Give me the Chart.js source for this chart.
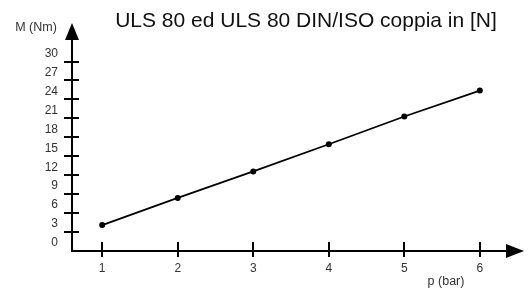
<!DOCTYPE html>
<html><head><meta charset="utf-8">
<script src="https://cdn.jsdelivr.net/npm/chart.js@4/dist/chart.umd.min.js"></script>
<style>html,body{margin:0;padding:0;background:#fff;overflow:hidden}#wrap{width:528px;height:295px}</style>
</head><body><div id="wrap"><canvas id="c" width="528" height="295"></canvas></div>
<script>
const pressures = [1, 2, 3, 4, 5, 6];
const torques = [4.1, 8.4, 12.6, 16.9, 21.3, 25.4];
const yTicks = [0, 3, 6, 9, 12, 15, 18, 21, 24, 27, 30];
const xTicks = [1, 2, 3, 4, 5, 6];
const titleText = 'ULS 80 ed ULS 80 DIN/ISO coppia in [N]';
const yAxisTitle = 'M (Nm)';
const xAxisTitle = 'p (bar)';

const FONT = "'Liberation Sans', Arial, sans-serif";

const axesPlugin = {
  id: 'axesPlugin',
  beforeDatasetsDraw(chart) {
    const ctx = chart.ctx;
    const xs = chart.scales.x, ys = chart.scales.y;
    const ca = chart.chartArea;
    const y0 = ys.getPixelForValue(0);
    const x0 = ca.left;
    ctx.save();
    ctx.strokeStyle = '#000';
    ctx.fillStyle = '#000';
    ctx.lineWidth = 2;
    ctx.beginPath();
    ctx.moveTo(x0, y0);
    ctx.lineTo(ca.right - 16, y0);
    ctx.stroke();
    ctx.beginPath();
    ctx.moveTo(x0, y0 + 1);
    ctx.lineTo(x0, ca.top + 16);
    ctx.stroke();
    ctx.beginPath();
    ctx.moveTo(ca.right, y0);
    ctx.lineTo(ca.right - 18, y0 - 7);
    ctx.lineTo(ca.right - 18, y0 + 7);
    ctx.closePath();
    ctx.fill();
    ctx.beginPath();
    ctx.moveTo(x0, ca.top);
    ctx.lineTo(x0 - 7, ca.top + 17);
    ctx.lineTo(x0 + 7, ca.top + 17);
    ctx.closePath();
    ctx.fill();
    ctx.lineWidth = 2;
    xTicks.forEach(v => {
      const px = Math.round(xs.getPixelForValue(v));
      ctx.beginPath();
      ctx.moveTo(px, y0 - 9);
      ctx.lineTo(px, y0 + 6);
      ctx.stroke();
    });
    yTicks.forEach(v => {
      if (v === 0) return;
      const py = Math.round(ys.getPixelForValue(v));
      ctx.beginPath();
      ctx.moveTo(x0 - 8, py);
      ctx.lineTo(x0 + 7, py);
      ctx.stroke();
    });
    ctx.restore();
  },
  afterDraw(chart) {
    const ctx = chart.ctx;
    ctx.save();
    ctx.fillStyle = '#111';
    ctx.font = '21px ' + FONT;
    ctx.textAlign = 'center';
    ctx.textBaseline = 'alphabetic';
    ctx.fillText(titleText, 306, 27);
    ctx.fillStyle = '#333';
    ctx.font = '12.5px ' + FONT;
    ctx.textBaseline = 'middle';
    ctx.fillText(yAxisTitle, 36, 28);
    ctx.fillText(xAxisTitle, 446, 282);
    ctx.restore();
  }
};

new Chart(document.getElementById('c'), {
  type: 'line',
  data: {
    datasets: [{
      data: pressures.map((p, i) => ({ x: p, y: torques[i] })),
      borderColor: '#000',
      backgroundColor: '#000',
      borderWidth: 1.8,
      pointRadius: 3,
      pointBackgroundColor: '#000',
      pointBorderWidth: 0,
      tension: 0,
      fill: false,
      clip: false
    }]
  },
  options: {
    responsive: false,
    animation: false,
    devicePixelRatio: 1,
    layout: { padding: { top: 23, right: 3, left: 0, bottom: 0 } },
    plugins: { legend: { display: false }, title: { display: false }, tooltip: { enabled: false } },
    scales: {
      x: {
        type: 'linear',
        min: 0.6,
        max: 6.585,
        grid: { display: false, drawTicks: false },
        border: { display: false },
        afterBuildTicks: s => { s.ticks = xTicks.map(v => ({ value: v })); },
        afterFit: s => { s.height = 44; },
        ticks: { padding: 10, color: '#333', font: { family: FONT, size: 12 }, maxRotation: 0, autoSkip: false }
      },
      y: {
        type: 'linear',
        min: 0,
        max: 36.1,
        grid: { display: false, drawTicks: false },
        border: { display: false },
        afterBuildTicks: s => { s.ticks = yTicks.map(v => ({ value: v })); },
        afterFit: s => { s.width = 72; },
        ticks: { padding: 14, labelOffset: -8, color: '#333', font: { family: FONT, size: 12 }, autoSkip: false }
      }
    }
  },
  plugins: [axesPlugin]
});
</script>
</body></html>
